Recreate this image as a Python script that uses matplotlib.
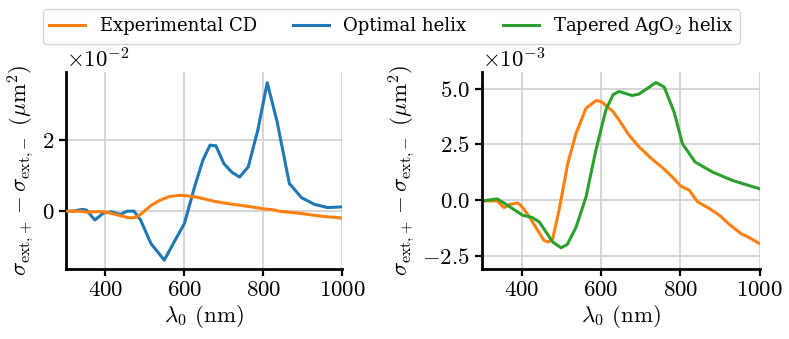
import numpy as np
import matplotlib
matplotlib.use("Agg")
import matplotlib.pyplot as plt
from matplotlib.ticker import MultipleLocator, ScalarFormatter

plt.rcParams['mathtext.fontset'] = 'cm'
plt.rcParams['font.family'] = ['cmr10', 'DejaVu Serif']
plt.rcParams['axes.formatter.use_mathtext'] = True
plt.rcParams['axes.unicode_minus'] = True

# Optimal helix (units of 1e-2 um^2)
helix_x = [300, 320, 340, 352, 373, 395, 415, 438, 455, 472, 489, 515, 549, 575, 600,
           626, 647, 665, 680, 700, 720, 740, 762, 786, 810, 835, 866, 897, 930, 964, 1000]
helix_y = [0, 0, 0.05, 0.03, -0.25, -0.05, -0.02, -0.09, 0, 0, -0.25, -0.91, -1.38, -0.85, -0.35,
           0.69, 1.44, 1.86, 1.84, 1.34, 1.1, 0.96, 1.25, 2.28, 3.62, 2.52, 0.78, 0.38, 0.19, 0.10, 0.12]

# Experimental CD (units of 1e-3 um^2)
cd_x = [300, 338, 355, 372, 389, 397, 414, 435, 456, 467, 478, 494, 516, 537, 562, 587, 600,
        630, 645, 670, 695, 729, 754, 779, 801, 822, 843, 873, 898, 923, 953, 974, 1000]
cd_y = [-0.03, -0.03, -0.33, -0.18, -0.12, -0.22, -0.6, -1.2, -1.8, -1.87, -1.72, -0.45, 1.65, 3.0,
        4.12, 4.46, 4.42, 3.97, 3.6, 2.92, 2.4, 1.83, 1.47, 1.05, 0.63, 0.45, -0.07, -0.37, -0.67,
        -1.08, -1.5, -1.68, -1.95]

# Tapered AgO2 helix (units of 1e-3 um^2)
tap_x = [300, 338, 355, 376, 402, 427, 444, 461, 478, 499, 515, 537, 562, 587, 612, 630, 645,
         678, 695, 716, 738, 759, 784, 805, 837, 881, 932, 1000]
tap_y = [-0.03, 0.06, -0.12, -0.37, -0.67, -0.78, -0.97, -1.42, -1.87, -2.13, -1.98, -1.2, 0.15,
         2.25, 4.04, 4.72, 4.87, 4.69, 4.75, 5.0, 5.27, 5.07, 3.95, 2.53, 1.71, 1.26, 0.88, 0.51]

c_cd = '#ff7f0e'
c_helix = '#1f77b4'
c_tap = '#2ca02c'

fig = plt.figure(figsize=(7.89, 3.39), dpi=100)
ax1 = fig.add_axes([0.0837, 0.2065, 0.350, 0.581])
ax2 = fig.add_axes([0.611, 0.2065, 0.352, 0.581])

l_cd, = ax1.plot(cd_x, np.array(cd_y) * 1e-3, color=c_cd, lw=2.2, zorder=3)
l_helix, = ax1.plot(helix_x, np.array(helix_y) * 1e-2, color=c_helix, lw=2.2, zorder=2)
ax2.plot(cd_x, np.array(cd_y) * 1e-3, color=c_cd, lw=2.2)
l_tap, = ax2.plot(tap_x, np.array(tap_y) * 1e-3, color=c_tap, lw=2.2)

ax1.set_ylim(-0.0163, 0.0392)
ax2.set_ylim(-3.08e-3, 5.74e-3)
ax1.yaxis.set_major_locator(MultipleLocator(0.02))
ax2.yaxis.set_major_locator(MultipleLocator(2.5e-3))

for ax in (ax1, ax2):
    ax.set_xlim(300, 1000)
    ax.xaxis.set_major_locator(MultipleLocator(200))
    fmt = ScalarFormatter(useMathText=True)
    fmt.set_powerlimits((0, 0))
    ax.yaxis.set_major_formatter(fmt)
    ax.grid(True, color='#d0d0d0', lw=1.2)
    ax.set_axisbelow(True)
    for s in ('top', 'right'):
        ax.spines[s].set_visible(False)
    for s in ('left', 'bottom'):
        ax.spines[s].set_linewidth(2.0)
    ax.tick_params(width=1.6, length=5, labelsize=16.5)
    ax.yaxis.get_offset_text().set_fontsize(16.5)
    ax.set_xlabel(r'$\lambda_0$ (nm)', fontsize=16.5, labelpad=2)
    ax.set_ylabel(r'$\sigma_{\mathrm{ext{,}+}} - \sigma_{\mathrm{ext{,}-}}\ (\mu\mathrm{m}^2)$',
                  fontsize=16.5, labelpad=4)

fig.legend([l_cd, l_helix, l_tap],
           ['Experimental CD', 'Optimal helix', r'Tapered AgO$_2$ helix'],
           loc='upper center', bbox_to_anchor=(0.496, 1.0), ncol=3,
           prop={'family': 'DejaVu Serif', 'size': 13}, frameon=True,
           edgecolor='#cccccc', fancybox=True, borderpad=0.35, columnspacing=2.0,
           handlelength=2.0)

fig.savefig('out.png', dpi=100)
